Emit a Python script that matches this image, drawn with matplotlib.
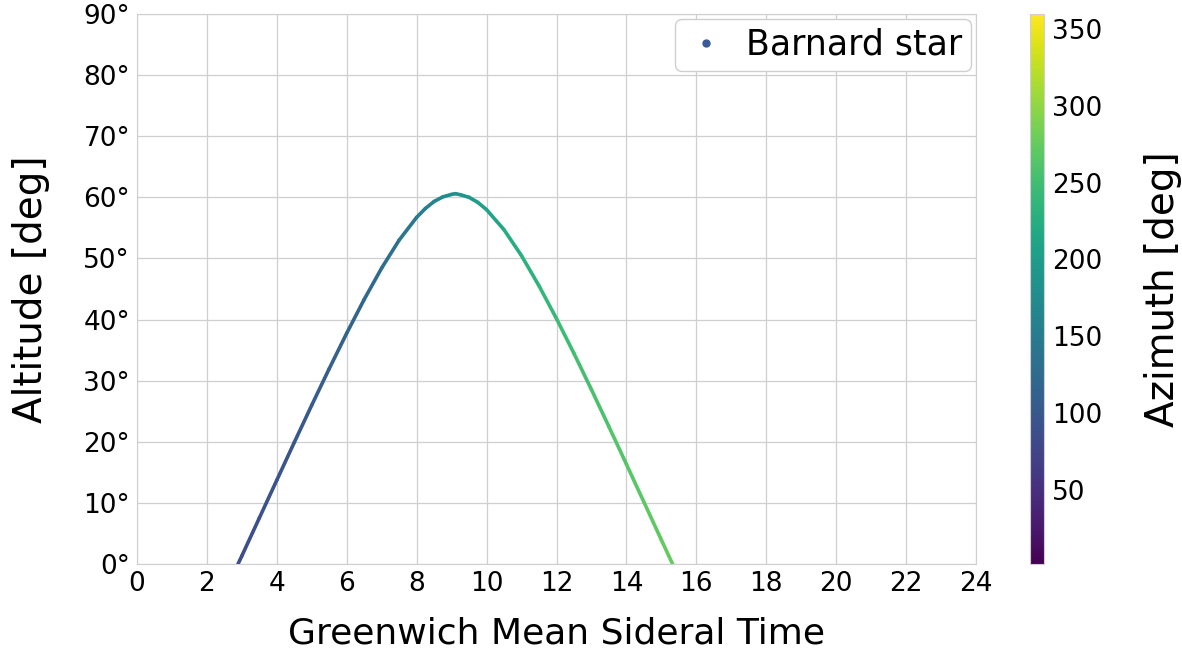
import matplotlib.pyplot as plt
import numpy as np
from matplotlib.collections import LineCollection
from matplotlib.lines import Line2D

# Data (Barnard's star track)
gmst = [2.89, 3.0, 3.5, 4.0, 4.5, 5.0, 5.5, 6.0, 6.5, 7.0, 7.5, 8.0, 8.25, 8.5,
        8.75, 9.0, 9.105, 9.25, 9.5, 9.75, 10.0, 10.5, 11.0, 11.5, 12.0, 12.5,
        13.0, 13.5, 14.0, 14.5, 15.0, 15.32]
altitude = [0.0, 1.34, 7.54, 13.73, 19.91, 26.01, 31.98, 37.78, 43.31, 48.44,
            53.01, 56.73, 58.18, 59.33, 60.08, 60.48, 60.6, 60.43, 60.0, 59.17,
            57.98, 54.69, 50.44, 45.52, 40.14, 34.45, 28.53, 22.47, 16.33,
            10.14, 3.94, 0.0]
azimuth = [84.3, 85.2, 89.4, 93.7, 98.1, 102.8, 107.9, 113.7, 120.3, 128.1,
           137.5, 148.8, 155.2, 162.2, 169.3, 177.6, 180.0, 184.1, 191.8, 199.0,
           205.8, 218.0, 228.1, 236.6, 243.7, 249.7, 255.1, 260.0, 264.5,
           268.8, 273.0, 275.7]
az_min, az_max = 1.5, 360

x_ticks = list(range(0, 25, 2))
y_ticks = list(range(0, 91, 10))
cbar_ticks = [50, 100, 150, 200, 250, 300, 350]

plt.rcParams['font.family'] = ['DejaVu Sans']

fig = plt.figure(figsize=(11.82, 6.5), dpi=100)
ax = fig.add_axes([137 / 1182, 1 - 564 / 650, (976 - 137) / 1182, 550 / 650])
cax = fig.add_axes([1030 / 1182, 1 - 564 / 650, 14 / 1182, 550 / 650])

pts = np.column_stack([gmst, altitude]).reshape(-1, 1, 2)
segs = np.concatenate([pts[:-1], pts[1:]], axis=1)
seg_az = (np.array(azimuth[:-1]) + np.array(azimuth[1:])) / 2
lc = LineCollection(segs, cmap='viridis', linewidths=2.6, capstyle='round',
                    joinstyle='round')
lc.set_array(seg_az)
lc.set_clim(az_min, az_max)
ax.add_collection(lc)

ax.set_xlim(0, 24)
ax.set_ylim(0, 90)
ax.set_xticks(x_ticks)
ax.set_yticks(y_ticks)
ax.set_yticklabels([f'{v}°' for v in y_ticks])
ax.tick_params(length=0, labelsize=19, pad=5)
ax.grid(True, color='#cfcfcf', linewidth=0.9)
ax.set_axisbelow(True)
for s in ax.spines.values():
    s.set_color('#cfcfcf')

ax.set_xlabel('Greenwich Mean Sideral Time', fontsize=26, labelpad=14)
ax.set_ylabel('Altitude [deg]', fontsize=28, labelpad=24)

handle = Line2D([], [], marker='o', linestyle='', color='#3b5a9a', markersize=5)
ax.legend([handle], ['Barnard star'], loc='upper right', fontsize=25,
          handletextpad=0.5, handlelength=1.3, borderpad=0.25,
          borderaxespad=0.15, fancybox=True, framealpha=1, edgecolor='#cfcfcf')

cb = fig.colorbar(lc, cax=cax)
cb.set_ticks(cbar_ticks)
cb.ax.tick_params(length=0, labelsize=19, pad=6)
cb.outline.set_edgecolor('#cfcfcf')
cb.set_label('Azimuth [deg]', fontsize=28, labelpad=30)

fig.savefig('out.png', dpi=100)
